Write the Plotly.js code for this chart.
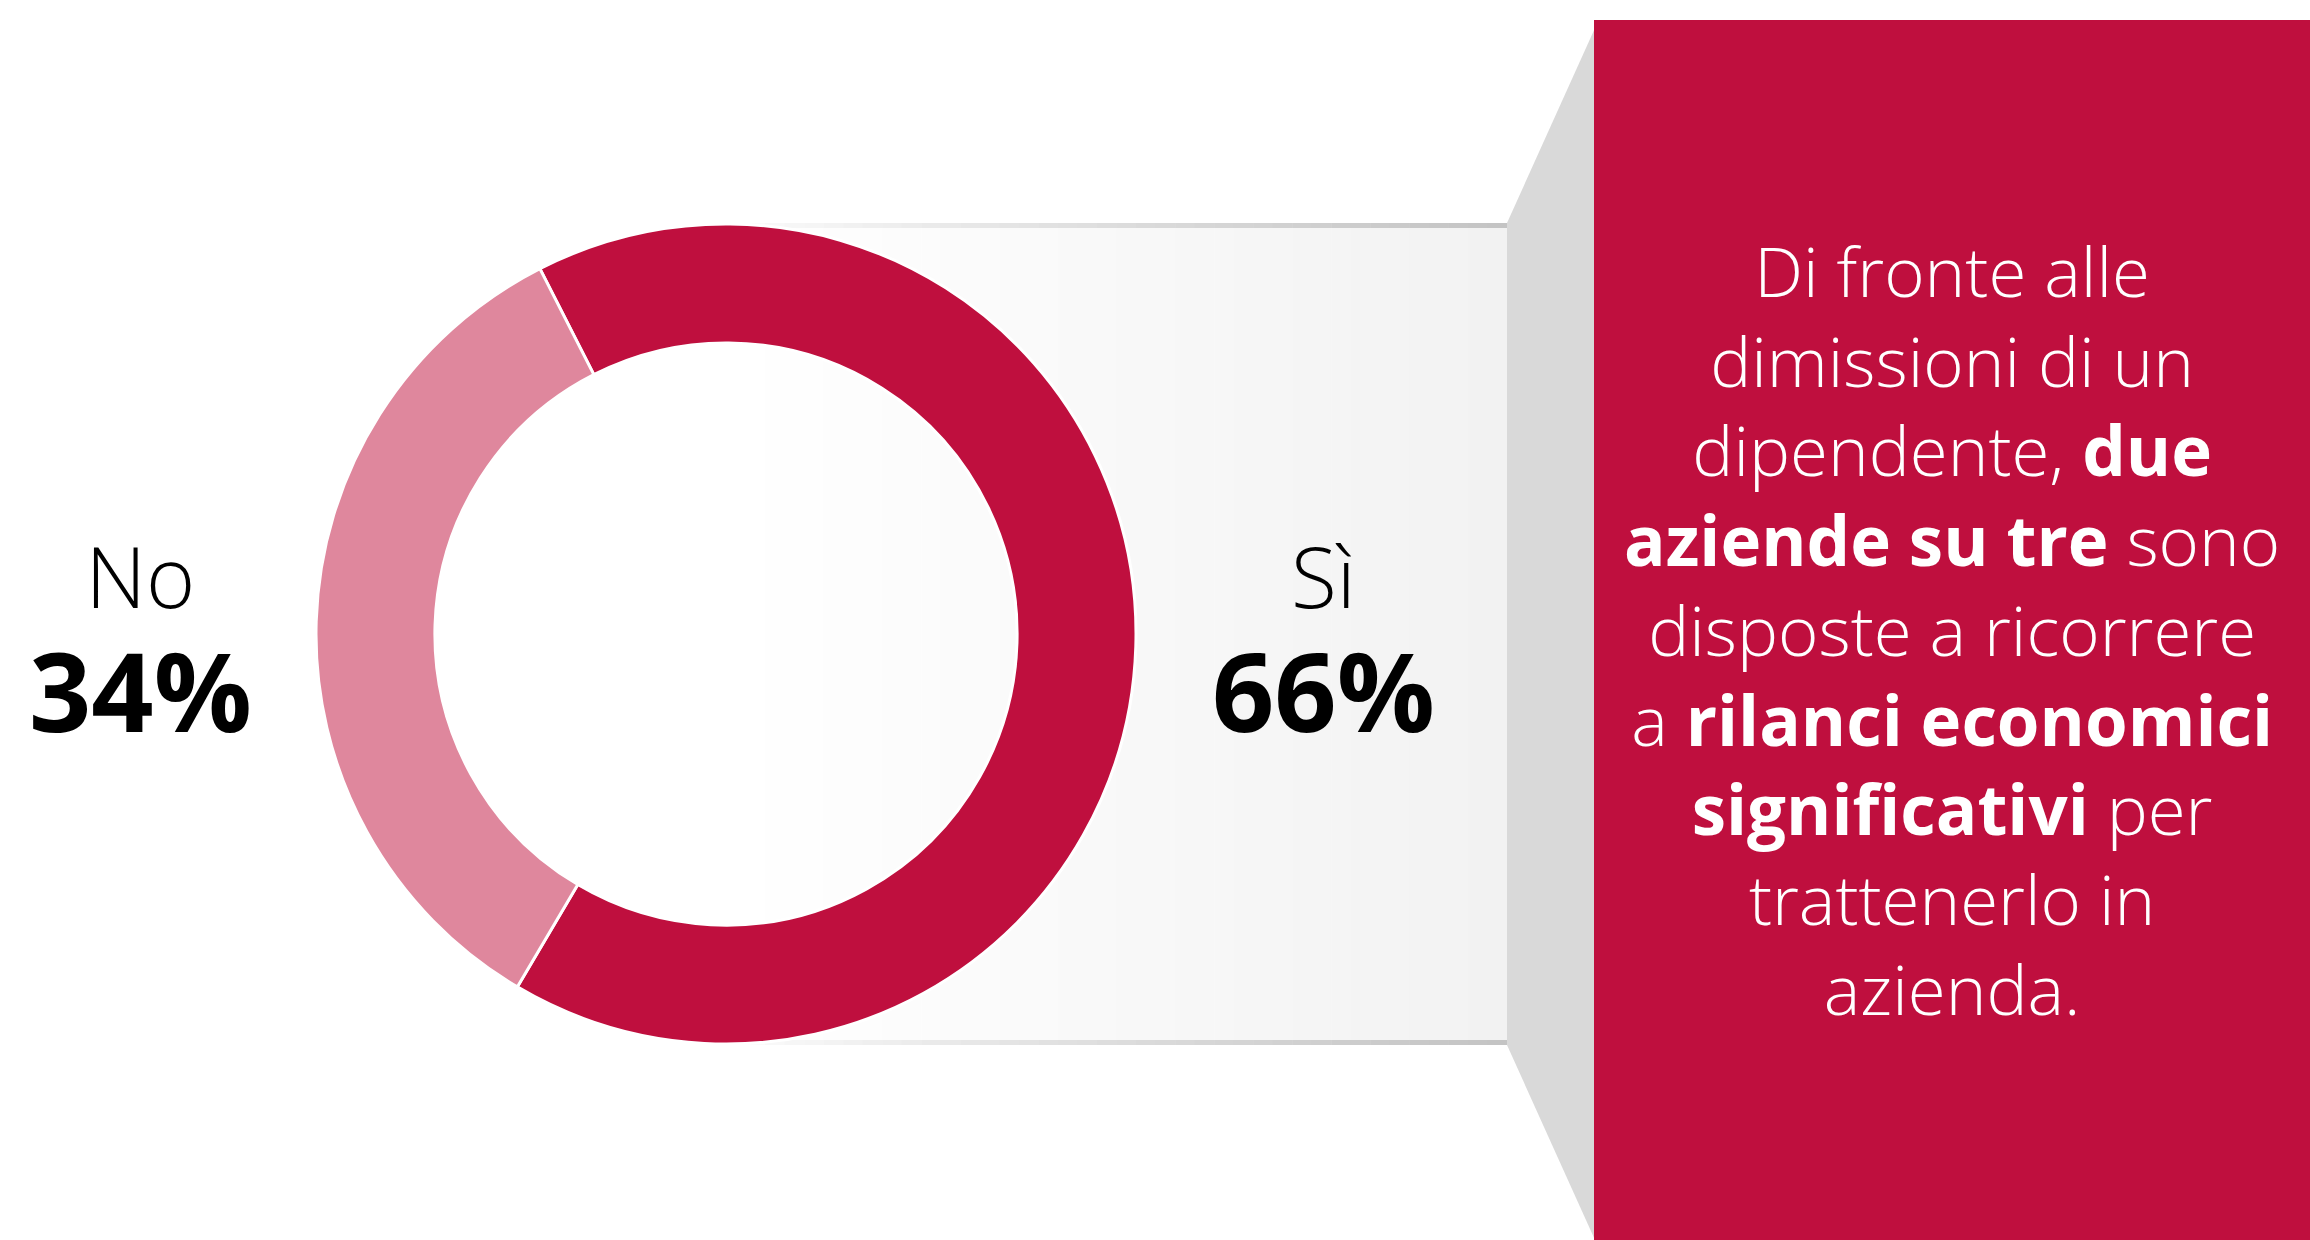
<!DOCTYPE html>
<html>
<head>
<meta charset="utf-8">
<script src="https://cdn.plot.ly/plotly-3.0.1.min.js"></script>
<style>html,body{margin:0;padding:0;background:#fff;}#chart{width:2310px;height:1240px;}</style>
</head>
<body>
<div id="chart"></div>
<script>
// ---- data ----
var labels = ["Sì", "No"];
var values = [66, 34];
var sliceColors = ["#BF0F3E", "#DF879D"];
var pctLabels = ["66%", "34%"];
var calloutLines = [
  "Di fronte alle",
  "dimissioni di un",
  "dipendente, <b>due</b>",
  "<b>aziende su tre</b> sono",
  "disposte a ricorrere",
  "a <b>rilanci economici</b>",
  "<b>significativi</b> per",
  "trattenerlo in",
  "azienda."
];

// ---- geometry helpers (pixels -> paper) ----
var W = 2310, H = 1240;
function px(x) { return x / W; }
function py(y) { return 1 - y / H; }

var FONT = "Open Sans, Noto Sans, sans-serif";

var cx = 726, cy = 634, R = 410;

var shapes = [];
// gradient rectangle behind donut (white -> light gray)
var x0 = 726, x1 = 1507, nb = 40;
for (var i = 0; i < nb; i++) {
  var t = (i + 0.5) / nb;
  var g = Math.round(255 - 13 * t);
  var gl = Math.round(255 - 60 * Math.pow(t, 0.8));
  var xa = x0 + (x1 - x0) * i / nb, xb = x0 + (x1 - x0) * (i + 1) / nb + 0.5;
  shapes.push({type: "rect", xref: "paper", yref: "paper", layer: "below",
    x0: px(xa), x1: px(xb), y0: py(1040), y1: py(228),
    fillcolor: "rgb(" + g + "," + g + "," + g + ")", line: {width: 0}});
  shapes.push({type: "rect", xref: "paper", yref: "paper", layer: "below",
    x0: px(xa), x1: px(xb), y0: py(228), y1: py(223),
    fillcolor: "rgb(" + gl + "," + gl + "," + gl + ")", line: {width: 0}});
  shapes.push({type: "rect", xref: "paper", yref: "paper", layer: "below",
    x0: px(xa), x1: px(xb), y0: py(1045), y1: py(1040),
    fillcolor: "rgb(" + gl + "," + gl + "," + gl + ")", line: {width: 0}});
}
// trapezoid
shapes.push({type: "path", xref: "paper", yref: "paper", layer: "below",
  path: "M " + px(1507) + "," + py(223) + " L " + px(1595) + "," + py(28) +
        " L " + px(1595) + "," + py(1240) + " L " + px(1507) + "," + py(1045) + " Z",
  fillcolor: "#D9D9D9", line: {width: 0}});
// red callout box
shapes.push({type: "rect", xref: "paper", yref: "paper", layer: "below",
  x0: px(1594), x1: 1, y0: 0, y1: py(20),
  fillcolor: "#BF0F3E", line: {width: 0}});

var trace = {
  type: "pie",
  labels: labels,
  values: values,
  sort: false,
  direction: "clockwise",
  rotation: -27,
  hole: 0.71,
  textinfo: "none",
  hoverinfo: "label+percent",
  marker: {colors: sliceColors, line: {color: "#ffffff", width: 3}},
  domain: {x: [px(cx - R), px(cx + R)], y: [py(cy + R), py(cy - R)]}
};

function sliceLabel(name, pct) {
  return "<span style='font-size:84px;font-weight:300'>" + name + "</span><br>" +
         "<b><span style='font-size:109px'>" + pct + "</span></b>";
}

var annotations = [
  {text: sliceLabel(labels[1], pctLabels[1]), x: px(140), y: py(641), font: {family: FONT, size: 95, color: "#000"}},
  {text: sliceLabel(labels[0], pctLabels[0]), x: px(1323), y: py(641), font: {family: FONT, size: 95, color: "#000"}},
  {text: calloutLines.join("<br>"), x: px(1952), y: py(629), align: "center",
   font: {family: FONT, size: 69, color: "#fff", weight: 300}}
];
annotations.forEach(function (a) {
  a.xref = "paper"; a.yref = "paper"; a.showarrow = false;
  a.xanchor = "center"; a.yanchor = "middle";
});

var layout = {
  width: W, height: H,
  margin: {l: 0, r: 0, t: 0, b: 0},
  paper_bgcolor: "#ffffff",
  plot_bgcolor: "#ffffff",
  showlegend: false,
  shapes: shapes,
  annotations: annotations
};

Plotly.newPlot("chart", [trace], layout, {displayModeBar: false, staticPlot: true});
</script>
</body>
</html>
